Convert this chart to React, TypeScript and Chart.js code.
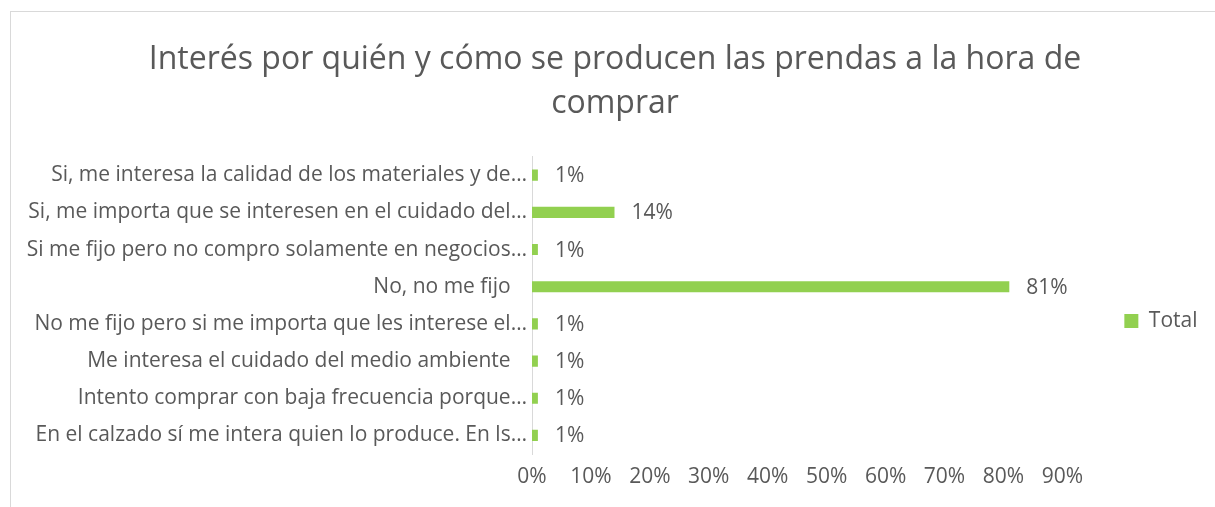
import React, { useEffect, useRef } from "react";
import { Chart, registerables } from "chart.js";

Chart.register(...registerables);

const titleLines = ["Interés por quién y cómo se producen las prendas a la hora de", "comprar"];
const categories = [
  "Si, me interesa la calidad de los materiales y de…",
  "Si, me importa que se interesen en el cuidado del…",
  "Si me fijo pero no compro solamente en negocios…",
  "No, no me fijo   ",
  "No me fijo pero si me importa que les interese el…",
  "Me interesa el cuidado del medio ambiente   ",
  "Intento comprar con baja frecuencia porque…",
  "En el calzado sí me intera quien lo produce. En ls…",
];
const totalValues = [0.01, 0.14, 0.01, 0.81, 0.01, 0.01, 0.01, 0.01];
const seriesName = "Total";
const axisMax = 0.9;
const axisStep = 0.1;

const FONT = "'Open Sans', 'Noto Sans', sans-serif";
const TEXT = "#595959";
const GREEN = "#92d050";

const dataLabelPlugin = {
  id: "dataLabels",
  afterDatasetsDraw(chart: any) {
    const ctx = chart.ctx;
    ctx.save();
    ctx.font = `21px ${FONT}`;
    ctx.fillStyle = TEXT;
    ctx.textAlign = "left";
    ctx.textBaseline = "middle";
    chart.data.datasets.forEach((ds: any, di: number) => {
      const meta = chart.getDatasetMeta(di);
      meta.data.forEach((el: any, i: number) => {
        const v = ds.data[i];
        ctx.fillText(`${Math.round(v * 100)}%`, el.x + 17, el.y + 1);
      });
    });
    ctx.restore();
  },
};

export default function App() {
  const ref = useRef<HTMLCanvasElement>(null);
  useEffect(() => {
    if (!ref.current) return;
    const chart = new Chart(ref.current, {
      type: "bar",
      data: {
        labels: categories,
        datasets: [
          {
            label: seriesName,
            data: totalValues,
            backgroundColor: GREEN,
            borderWidth: 0,
            barPercentage: 0.3,
            categoryPercentage: 1,
          },
        ],
      },
      options: {
        indexAxis: "y",
        animation: false,
        responsive: false,
        maintainAspectRatio: false,
        layout: { padding: { top: 0, left: 22.5, right: 7.5, bottom: 7 } },
        plugins: {
          title: {
            display: true,
            text: titleLines,
            color: TEXT,
            font: { family: FONT, size: 32, weight: "normal", lineHeight: 1.4 },
            padding: { top: 37, bottom: 30 },
          },
          legend: {
            display: true,
            position: "right",
            title: { display: true, text: " ", font: { size: 10 }, padding: { top: 65, bottom: 65 } },
            labels: {
              boxWidth: 14,
              boxHeight: 14,
              padding: 62,
              color: TEXT,
              font: { family: FONT, size: 21 },
            },
          },
          tooltip: { enabled: false },
        },
        scales: {
          x: {
            min: 0,
            max: axisMax,
            grid: { display: false, drawTicks: false },
            border: { display: false },
            ticks: {
              stepSize: axisStep,
              color: TEXT,
              padding: 10.4,
              font: { family: FONT, size: 21 },
              callback: (v: any) => `${Math.round(Number(v) * 100)}%`,
            },
          },
          y: {
            grid: { display: false, drawTicks: false },
            border: { display: true, color: "#d9d9d9", width: 1 },
            ticks: {
              color: TEXT,
              padding: 5,
              autoSkip: false,
              font: { family: FONT, size: 21 },
            },
            afterFit: (scale: any) => {
              scale.width = 509.5;
            },
          },
        },
      },
      plugins: [dataLabelPlugin],
    });
    return () => chart.destroy();
  }, []);
  return (
    <>
      <canvas
        ref={ref}
        width={1215}
        height={507}
        style={{ position: "fixed", left: 0, top: 0, width: 1215, height: 507, display: "block" }}
      />
      <div
        style={{
          position: "fixed",
          left: 10,
          top: 11,
          width: 1205,
          height: 496,
          boxSizing: "border-box",
          borderTop: "1px solid #d9d9d9",
          borderLeft: "1px solid #d9d9d9",
          pointerEvents: "none",
        }}
      />
    </>
  );
}
